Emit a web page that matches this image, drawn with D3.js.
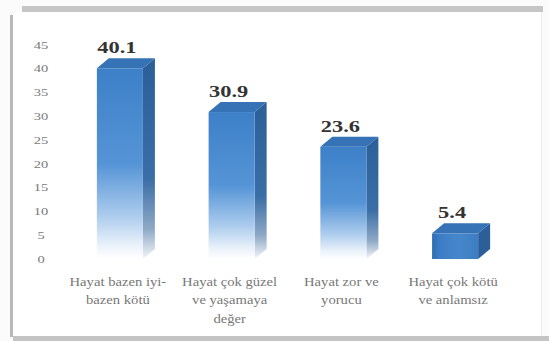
<!DOCTYPE html>
<html>
<head>
<meta charset="utf-8">
<script src="https://cdn.jsdelivr.net/npm/d3@7"></script>
<style>
html,body{margin:0;padding:0;background:#ffffff;}
svg{display:block;}
svg text{font-family:"Liberation Serif","Tinos","Times New Roman","DejaVu Serif",serif;}
</style>
</head>
<body>
<div id="chart"></div>
<script>
// ---- data ----
const categories = [
  "Hayat bazen iyi-bazen kötü",
  "Hayat çok güzel ve yaşamaya değer",
  "Hayat zor ve yorucu",
  "Hayat çok kötü ve anlamsız"
];
const categoryLines = [
  ["Hayat bazen iyi-", "bazen kötü"],
  ["Hayat çok güzel", "ve yaşamaya", "değer"],
  ["Hayat zor ve", "yorucu"],
  ["Hayat çok kötü", "ve anlamsız"]
];
const values = [40.1, 30.9, 23.6, 5.4];
const yTicks = [0, 5, 10, 15, 20, 25, 30, 35, 40, 45];

// ---- setup ----
const W = 549, H = 341;
const SERIF = "'Liberation Serif', Tinos, 'Times New Roman', 'DejaVu Serif', serif";
const svg = d3.select("#chart").append("svg").attr("width", W).attr("height", H);

// frame
svg.append("rect").attr("x",0).attr("y",0).attr("width",W).attr("height",H).attr("fill","#fbfbfb");
svg.append("rect").attr("x",13).attr("y",12).attr("width",528).attr("height",324).attr("fill","#ffffff");
svg.append("rect").attr("x",22).attr("y",6).attr("width",521).attr("height",6).attr("fill","#c6c6c6");
svg.append("rect").attr("x",10).attr("y",15).attr("width",3).attr("height",322).attr("fill","#b8b8b8");
svg.append("rect").attr("x",13).attr("y",336).attr("width",536).attr("height",5).attr("fill","#c4c4c4");
svg.append("line").attr("x1",541.5).attr("x2",541.5).attr("y1",12).attr("y2",336).attr("stroke","#ececec");

const x = d3.scaleBand().domain(categories).range([41, 534]).paddingInner(0.588).paddingOuter(0.5);
const y = d3.scaleLinear().domain([0, 45]).range([259, 45]);
const dx = 12, dy = 10;

const defs = svg.append("defs");
const fg = defs.append("linearGradient").attr("id","frontGrad").attr("x1",0).attr("y1",0).attr("x2",0).attr("y2",1);
[[0,"#3d80c8"],[0.5,"#5594d6"],[0.78,"#aecdee"],[0.93,"#ebf2fa"],[1,"#ffffff"]].forEach(s=>fg.append("stop").attr("offset",s[0]).attr("stop-color",s[1]));
const sg = defs.append("linearGradient").attr("id","sideGrad").attr("x1",0).attr("y1",0).attr("x2",0).attr("y2",1);
[[0,"#2b5f98"],[0.6,"#3a6ea6"],[0.85,"#8ea9c6"],[1,"#f4f6f9"]].forEach(s=>sg.append("stop").attr("offset",s[0]).attr("stop-color",s[1]));
const fh = defs.append("linearGradient").attr("id","frontH").attr("x1",0).attr("y1",0).attr("x2",1).attr("y2",0);
[[0,"#2f6cb0"],[0.15,"#3b7cc4"],[0.6,"#4687cc"],[1,"#3d7dc2"]].forEach(s=>fh.append("stop").attr("offset",s[0]).attr("stop-color",s[1]));

// y axis labels
const ax = svg.append("g").attr("transform","translate(41,0)")
  .call(d3.axisLeft(y).tickValues(yTicks).tickSize(0).tickPadding(0));
ax.attr("font-family", SERIF);
ax.select(".domain").remove();
ax.selectAll("text")
  .attr("x",0).attr("text-anchor","middle")
  .attr("font-family", SERIF).attr("font-size",10)
  .attr("fill","#7a7a7a")
  .attr("transform","scale(1.45,1)");

// bars
const bars = svg.append("g").selectAll("g").data(values).join("g");
bars.each(function(v, i){
  const g = d3.select(this);
  const x0 = x(categories[i]), x1 = x0 + x.bandwidth();
  const yt = y(v), yb = y(0);
  const tall = (yb - yt) > 60;
  g.append("path")
    .attr("d", `M${x1},${yt} L${x1+dx},${yt-dy} L${x1+dx},${yb-dy} L${x1},${yb} Z`)
    .attr("fill", tall ? "url(#sideGrad)" : "#2c5f97");
  g.append("rect").attr("x",x0).attr("y",yt).attr("width",x1-x0).attr("height",yb-yt)
    .attr("fill", tall ? "url(#frontGrad)" : "url(#frontH)");
  g.append("path")
    .attr("d", `M${x0},${yt} L${x0+dx},${yt-dy} L${x1+dx},${yt-dy} L${x1},${yt} Z`)
    .attr("fill","#3572b6");
  g.append("text")
    .attr("transform", `translate(${(x0+x1)/2 - 3},${yt-15}) scale(1.4,1)`)
    .attr("text-anchor","middle")
    .attr("font-family", SERIF).attr("font-weight","bold")
    .attr("font-size",16).attr("fill","#333333")
    .text(d3.format(".1f")(v));
});

// category labels
const cl = svg.append("g").selectAll("g").data(categories).join("g");
cl.each(function(c, i){
  const cx = x(c) + x.bandwidth()/2 - 2;
  categoryLines[i].forEach((line, j) => {
    d3.select(this).append("text")
      .attr("transform", `translate(${cx},${286 + j*18.4}) scale(1.22,1)`)
      .attr("text-anchor","middle")
      .attr("font-family", SERIF)
      .attr("font-size",12).attr("fill","#777777")
      .text(line);
  });
});
</script>
</body>
</html>
